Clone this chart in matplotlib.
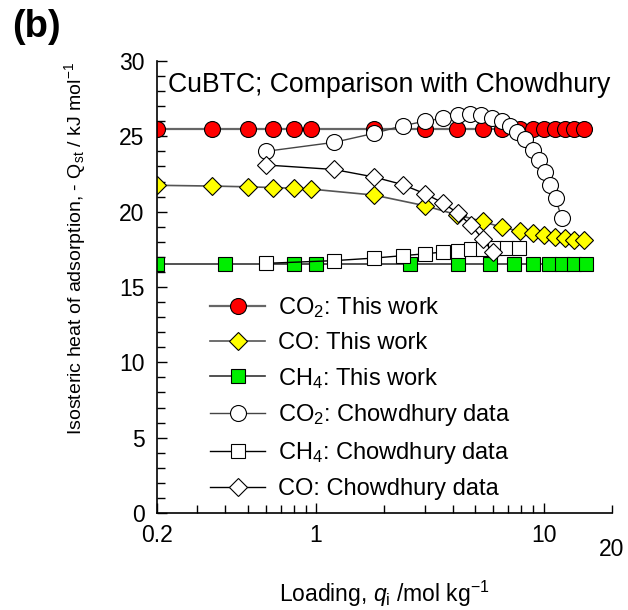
import matplotlib
matplotlib.use("Agg")
import matplotlib.pyplot as plt

plt.rcParams['font.family'] = ['Liberation Sans', 'DejaVu Sans']
plt.rcParams['mathtext.fontset'] = 'custom'
plt.rcParams['mathtext.rm'] = 'Liberation Sans'
plt.rcParams['mathtext.it'] = 'Liberation Sans:italic'
plt.rcParams['mathtext.default'] = 'regular'

# This work: loadings shared by CO2 and CO
q_this = [0.2, 0.35, 0.5, 0.65, 0.8, 0.95, 1.8, 3.0, 4.15, 5.4, 6.6, 7.9, 9.0, 10.1, 11.2, 12.4, 13.6, 15.0]
qst_co2_this = [25.5, 25.5, 25.5, 25.5, 25.5, 25.5, 25.5, 25.5, 25.5, 25.5, 25.5, 25.5, 25.5, 25.5, 25.5, 25.5, 25.5, 25.5]
qst_co_this = [21.75, 21.7, 21.65, 21.6, 21.55, 21.5, 21.1, 20.4, 19.8, 19.35, 18.95, 18.7, 18.6, 18.45, 18.35, 18.25, 18.15, 18.1]

q_ch4_this = [0.2, 0.4, 0.8, 1.0, 2.6, 4.2, 5.8, 7.4, 9.0, 10.6, 12.1, 13.6, 15.3]
qst_ch4_this = [16.55, 16.55, 16.55, 16.55, 16.55, 16.55, 16.55, 16.55, 16.55, 16.55, 16.55, 16.55, 16.55]

# Chowdhury data
q_co2_ch = [0.6, 1.2, 1.8, 2.4, 3.0, 3.6, 4.2, 4.75, 5.3, 5.95, 6.6, 7.1, 7.65, 8.3, 9.0, 9.6, 10.2, 10.7, 11.3, 12.0]
qst_co2_ch = [24.0, 24.6, 25.2, 25.7, 26.0, 26.2, 26.4, 26.5, 26.4, 26.25, 26.0, 25.7, 25.3, 24.8, 24.1, 23.4, 22.6, 21.8, 20.9, 19.6]

q_ch4_ch = [0.6, 1.2, 1.8, 2.4, 3.0, 3.6, 4.2, 4.8, 5.4, 6.1, 6.9, 7.8]
qst_ch4_ch = [16.57, 16.75, 16.92, 17.08, 17.2, 17.32, 17.42, 17.5, 17.55, 17.57, 17.58, 17.58]

q_co_ch = [0.6, 1.2, 1.8, 2.4, 3.0, 3.6, 4.2, 4.8, 5.4, 6.0]
qst_co_ch = [23.1, 22.8, 22.3, 21.8, 21.2, 20.6, 19.9, 19.1, 18.2, 17.3]

fig = plt.figure(figsize=(6.28, 6.10), dpi=100)
ax = fig.add_axes([0.25, 0.159, 0.7245, 0.741])

ax.plot(q_this, qst_co2_this, '-o', color='#666666', lw=1.6, ms=11.5,
        mfc='red', mec='black', mew=0.8, label=r'CO$_2$: This work')
ax.plot(q_this, qst_co_this, '-D', color='#555555', lw=1.2, ms=9.2,
        mfc='yellow', mec='black', mew=0.8, label='CO: This work')
ax.plot(q_ch4_this, qst_ch4_this, '-s', color='#333333', lw=1.2, ms=10.5,
        mfc='#00ee00', mec='black', mew=0.8, label=r'CH$_4$: This work')
ax.plot(q_co2_ch, qst_co2_ch, '-o', color='#444444', lw=1.0, ms=11.5,
        mfc='white', mec='black', mew=0.8, label=r'CO$_2$: Chowdhury data')
ax.plot(q_ch4_ch, qst_ch4_ch, '-s', color='black', lw=1.0, ms=10.5,
        mfc='white', mec='black', mew=0.8, label=r'CH$_4$: Chowdhury data')
ax.plot(q_co_ch, qst_co_ch, '-D', color='black', lw=1.0, ms=9.2,
        mfc='white', mec='black', mew=0.8, label='CO: Chowdhury data')

ax.set_xscale('log')
ax.set_xlim(0.2, 20)
ax.set_ylim(0, 30)
ax.set_xticks([0.2, 1, 10])
ax.set_xticklabels(['0.2', '1', '10'])
ax.set_xticks([0.3, 0.4, 0.5, 0.6, 0.7, 0.8, 0.9, 2, 3, 4, 5, 6, 7, 8, 9, 20], minor=True)
ax.xaxis.set_minor_formatter(matplotlib.ticker.NullFormatter())
ax.set_yticks([0, 5, 10, 15, 20, 25, 30])
ax.set_yticks(range(0, 31), minor=True)

ax.annotate('20', xy=(20, 0), xycoords=('data', 'axes fraction'),
            xytext=(0, -18), textcoords='offset points',
            ha='center', va='top', fontsize=16.5)

for side in ['top', 'right']:
    ax.spines[side].set_visible(False)
for side in ['left', 'bottom']:
    ax.spines[side].set_linewidth(1.2)

ax.tick_params(which='both', direction='in', labelsize=16.5, width=1)
ax.tick_params(which='major', length=7.5)
ax.tick_params(which='minor', length=5.5)
ax.tick_params(axis='x', which='major', pad=8)
ax.tick_params(axis='y', which='major', pad=9)

ax.text(0.024, 0.947, 'CuBTC; Comparison with Chowdhury', transform=ax.transAxes,
        ha='left', va='center', fontsize=19.2)

ax.set_ylabel(r'Isosteric heat of adsorption, - Q$_{st}$ / kJ mol$^{-1}$', fontsize=14)
ax.yaxis.set_label_coords(-0.152, 0.586)
ax.set_xlabel(r'Loading, $\mathit{q}_{i}$ /mol kg$^{-1}$', fontsize=16.5)
ax.xaxis.set_label_coords(0.5, -0.145)

ax.legend(loc='upper left', bbox_to_anchor=(0.1165, 0.482), frameon=False,
          fontsize=17, handlelength=2.33, handletextpad=0.55, labelspacing=0.5,
          borderpad=0, borderaxespad=0)

fig.text(0.02, 0.985, '(b)', fontsize=27.5, fontweight='bold', ha='left', va='top')

fig.savefig('out.png', dpi=100)
